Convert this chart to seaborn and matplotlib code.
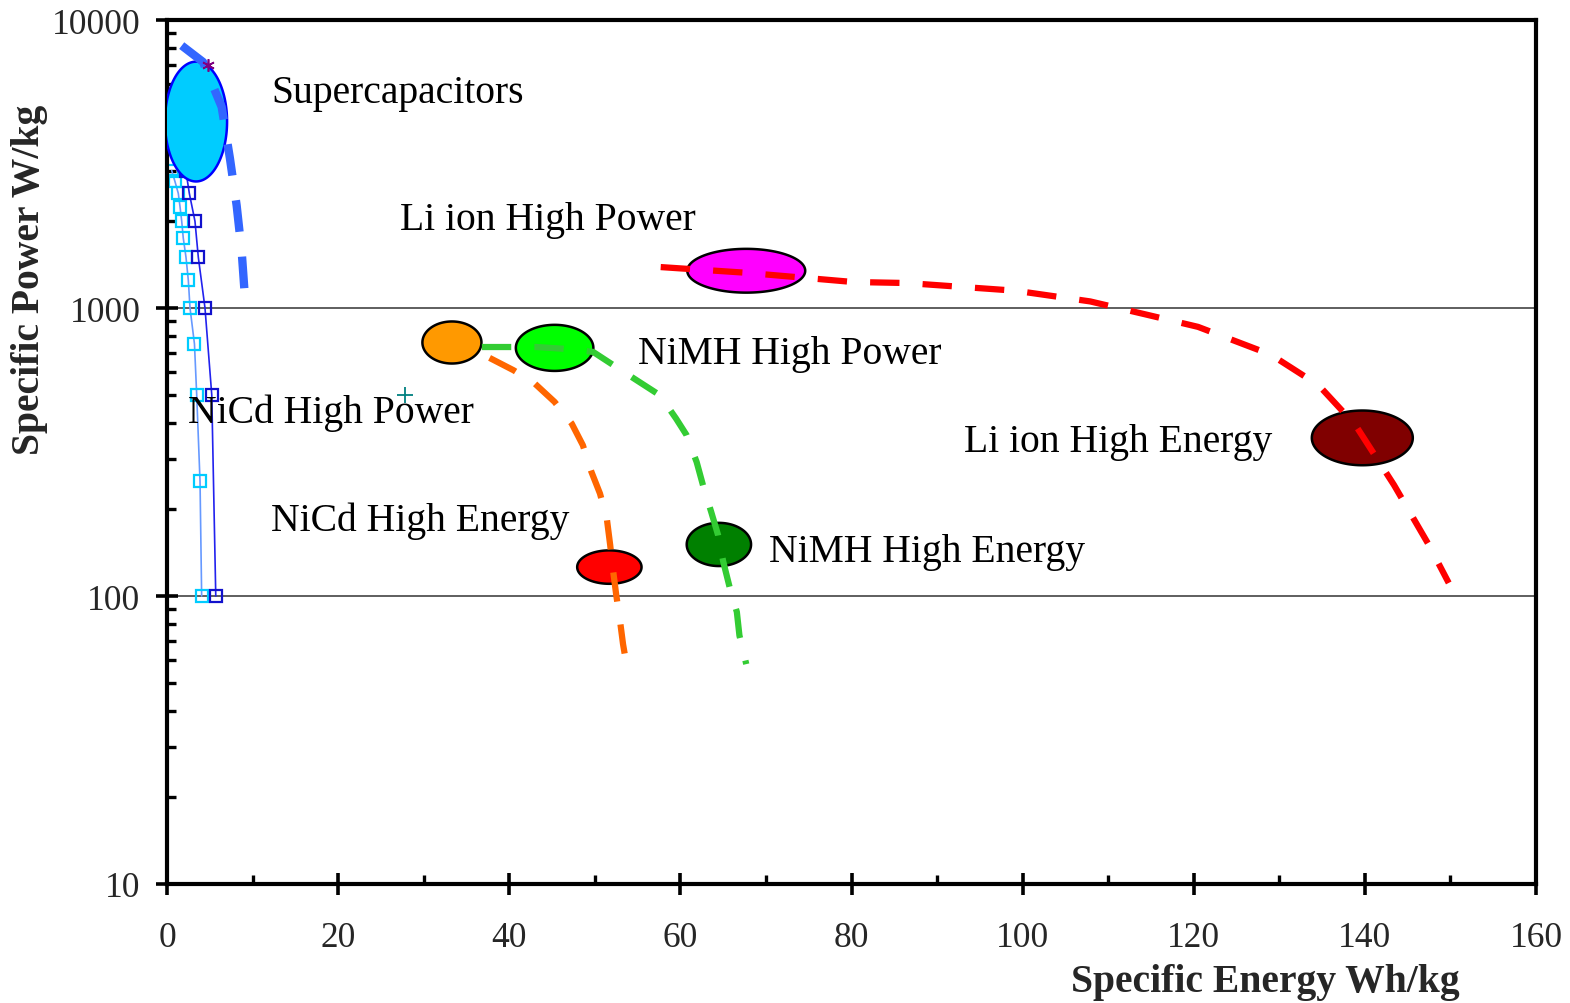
import numpy as np
import pandas as pd
import matplotlib
matplotlib.use("Agg")
import matplotlib.pyplot as plt
import seaborn as sns
from matplotlib.ticker import MultipleLocator, LogLocator, NullFormatter

# Ragone plot data
supercap_x = [1.72, 4.21, 6.39, 7.36, 8.14, 8.73, 9.23]
supercap_y = [8150, 7150, 4990, 3300, 2270, 1570, 970]

nicd_hp_x = [0.55, 0.93, 1.32, 1.52, 1.72, 1.90, 2.22, 2.49, 2.69, 3.21, 3.47, 3.86, 4.05]
nicd_hp_y = [3000, 2750, 2500, 2250, 2000, 1750, 1500, 1250, 1000, 750, 500, 250, 100]

nicd_hp2_x = [2.2, 2.61, 3.27, 3.66, 4.44, 5.23, 5.70]
nicd_hp2_y = [3000, 2500, 2000, 1500, 1000, 500, 100]

liion_x = [57.7, 67.6, 80.2, 86.5, 99.2, 107.9, 114.5, 120.5, 129.0, 134.6, 138.9, 143.4, 147.5, 149.8]
liion_y = [1387, 1326, 1231, 1221, 1148, 1054, 948, 860, 689, 539, 392, 243, 150, 111]

nicd_x = [37.7, 40.5, 43.0, 45.3, 47.3, 48.6, 49.6, 50.6, 51.4, 51.8, 52.1, 52.5, 52.9, 53.3, 53.7]
nicd_y = [671, 608, 546, 472, 397, 334, 270, 227, 186, 150, 125, 101, 84, 68, 58]

nimh_x = [36.8, 40.3, 43.2, 46.3, 49.8, 52.5, 54.9, 57.6, 59.5, 60.7, 61.9, 62.7, 63.6,
          64.4, 65.0, 65.8, 66.6, 66.9, 67.7]
nimh_y = [732, 732, 732, 722, 704, 624, 561, 498, 413, 363, 292, 239, 196,
          163, 132, 106, 88, 73, 58]

# ellipses: centre x, centre y, half width (Wh/kg), half height (decades), face, edge
blob_names = ["Supercapacitors", "Li ion HP", "Li ion HE", "NiCd HP", "NiMH HP", "NiCd HE", "NiMH HE"]
blob_cx = [3.39, 67.7, 139.7, 33.3, 45.3, 51.7, 64.5]
blob_cy = [4440, 1347, 354, 759, 727, 126, 151]
blob_w = [3.63, 6.89, 5.9, 3.45, 4.53, 3.76, 3.76]
blob_h = [0.208, 0.076, 0.095, 0.073, 0.080, 0.058, 0.075]
blob_face = ["#00CCFF", "#FF00FF", "#800000", "#FF9900", "#00FF00", "#FF0000", "#008000"]
blob_edge = ["#0000FF", "black", "black", "black", "black", "black", "black"]

labels = ["Supercapacitors", "Li ion High Power", "NiMH High Power", "NiCd High Power",
          "Li ion High Energy", "NiCd High Energy", "NiMH High Energy"]
label_x = [12.15, 27.2, 55.0, 2.45, 93.2, 12.15, 70.3]
label_y = [5195, 1884, 646, 403, 320, 169, 132]

sns.set_style("white")
plt.rcParams["font.family"] = ["Liberation Serif", "DejaVu Serif"]

fig = plt.figure(figsize=(15.7, 10.04), dpi=100)
ax = fig.add_axes([167 / 1570, 1 - 885 / 1004, 1369 / 1570, 864 / 1004])
ax.set_yscale("log")
ax.set_xlim(0, 160)
ax.set_ylim(10, 10000)

# NiCd high power square series
sns.lineplot(x=nicd_hp_x, y=nicd_hp_y, sort=False, estimator=None, ax=ax, color="#6699FF",
             lw=1.2, marker="s", markersize=8, markerfacecolor="none",
             markeredgecolor="#00CCFF", markeredgewidth=1.6, zorder=2)
sns.lineplot(x=nicd_hp2_x, y=nicd_hp2_y, sort=False, estimator=None, ax=ax, color="#2222EE",
             lw=1.2, marker="s", markersize=8, markerfacecolor="none",
             markeredgecolor="#1111CC", markeredgewidth=1.6, zorder=2)

# region ellipses
t = np.linspace(0, 2 * np.pi, 200)
for cx, cy, w, h, fc, ec in zip(blob_cx, blob_cy, blob_w, blob_h, blob_face, blob_edge):
    ax.fill(cx + w * np.cos(t), cy * 10 ** (h * np.sin(t)), facecolor=fc, edgecolor=ec,
            lw=1.8, zorder=3)

# dashed trend curves
curves = [
    (supercap_x, supercap_y, "#3366FF", 6.0, [3.8, 3.0]),
    (liion_x, liion_y, "#FF0000", 4.5, [4.7, 3.7]),
    (nicd_x, nicd_y, "#FF6600", 4.5, [4.7, 3.7]),
    (nimh_x, nimh_y, "#33CC33", 4.5, [4.7, 3.7]),
]
for cx, cy, col, lw, dash in curves:
    sns.lineplot(x=cx, y=cy, sort=False, estimator=None, ax=ax, color=col, lw=lw, zorder=4)
    ax.lines[-1].set_dashes(dash)
    ax.lines[-1].set_dash_capstyle("butt")

# odd single markers
ax.plot([4.8], [6980], marker=(6, 2, 0), color="#800080", markersize=9, mew=1.2, zorder=5)
ax.plot([27.8], [500], marker="+", color="#008080", markersize=11, mew=1.3, zorder=5)

for txt, lx, ly in zip(labels, label_x, label_y):
    ax.text(lx, ly, txt, fontsize=28.5, ha="left", va="baseline", color="black", zorder=6)

# axes styling
ax.yaxis.grid(True, which="major", color="#333333", lw=1.1)
ax.xaxis.grid(False)
for s in ax.spines.values():
    s.set_linewidth(3)
    s.set_color("black")
ax.xaxis.set_major_locator(MultipleLocator(20))
ax.xaxis.set_minor_locator(MultipleLocator(10))
ax.yaxis.set_minor_locator(LogLocator(base=10, subs=np.arange(2, 10), numticks=20))
ax.yaxis.set_minor_formatter(NullFormatter())
ax.set_yticks([10, 100, 1000, 10000])
ax.set_yticklabels(["10", "100", "1000", "10000"])
ax.tick_params(axis="both", which="major", direction="inout", length=16, width=2.6,
               labelsize=25.5, color="black", bottom=True, left=True, top=False, right=False)
ax.tick_params(axis="y", which="major", pad=11)
ax.tick_params(axis="x", which="major", pad=19)
ax.tick_params(axis="both", which="minor", direction="in", length=6.5, width=2.4,
               color="black", bottom=True, left=True, top=False, right=False)
ax.set_xlabel("")
ax.set_ylabel("")

fig.text(1460 / 1570, 1 - 983 / 1004, "Specific Energy Wh/kg", fontsize=28.5, fontweight="bold",
         ha="right", va="center")
fig.text(30 / 1570, 1 - 280 / 1004, "Specific Power W/kg", fontsize=28.5, fontweight="bold",
         ha="center", va="center", rotation=90)

fig.savefig("out.png", dpi=100, facecolor="white")
